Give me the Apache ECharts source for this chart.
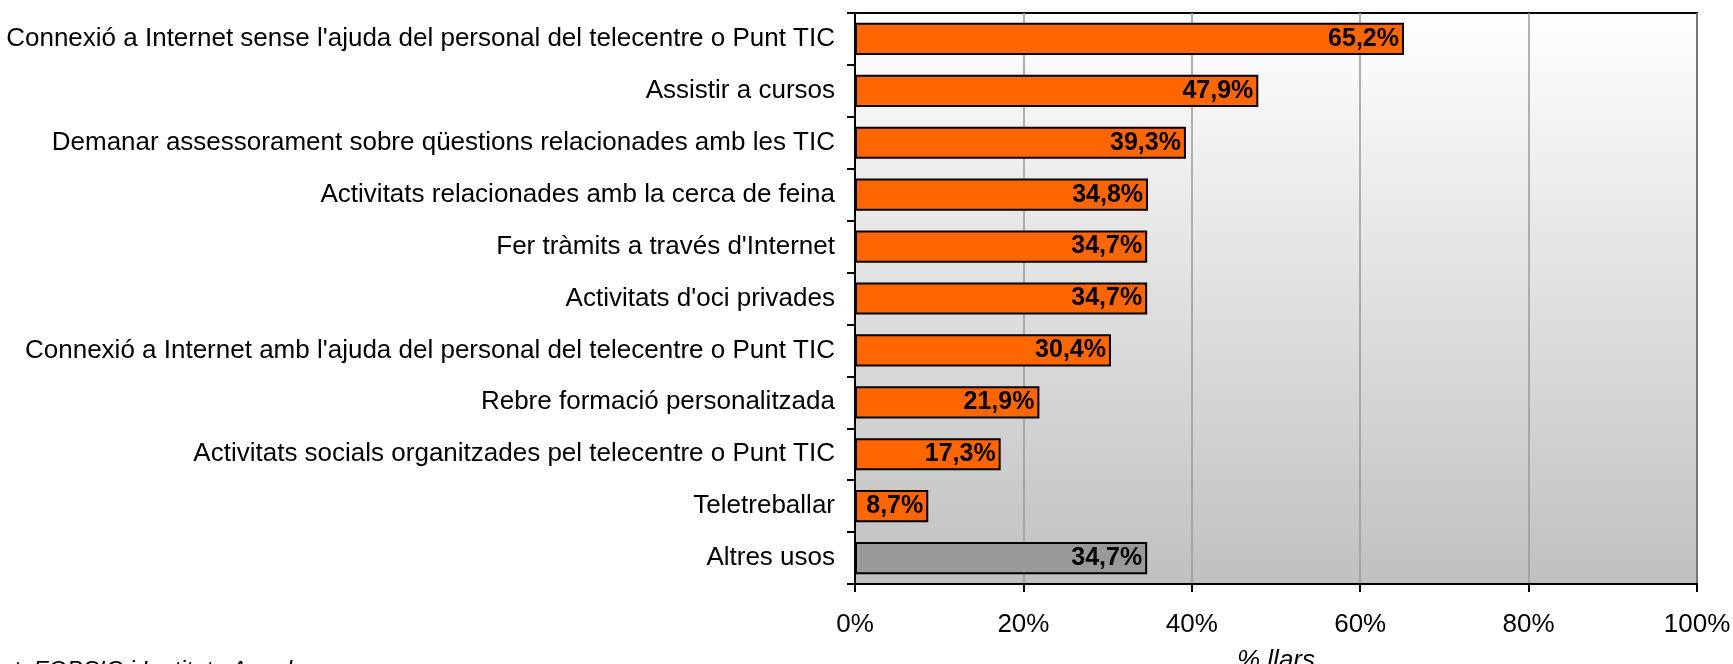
<!DOCTYPE html>
<html>
<head>
<meta charset="utf-8">
<script src="https://cdn.jsdelivr.net/npm/echarts@6/dist/echarts.min.js"></script>
<style>
  html, body { margin: 0; padding: 0; background: #ffffff; }
  #chart { width: 1733px; height: 664px; }
</style>
</head>
<body>
<div id="chart"></div>
<script>
// Usos del telecentre o Punt TIC (% llars)
const categories = [
  "Connexió a Internet sense l'ajuda del personal del telecentre o Punt TIC",
  "Assistir a cursos",
  "Demanar assessorament sobre qüestions relacionades amb les TIC",
  "Activitats relacionades amb la cerca de feina",
  "Fer tràmits a través d'Internet",
  "Activitats d'oci privades",
  "Connexió a Internet amb l'ajuda del personal del telecentre o Punt TIC",
  "Rebre formació personalitzada",
  "Activitats socials organitzades pel telecentre o Punt TIC",
  "Teletreballar",
  "Altres usos"
];
const values = [65.2, 47.9, 39.3, 34.8, 34.7, 34.7, 30.4, 21.9, 17.3, 8.7, 34.7];
const highlighted = ["Altres usos"];
const xTicks = [0, 20, 40, 60, 80, 100];
const axisTitle = "% llars";
const sourceNote = "Font: FOBSIC i Instituts Anuals";

const FONT = "'Liberation Sans', Arial, sans-serif";
const chart = echarts.init(document.getElementById('chart'), null, { renderer: 'canvas' });

const barData = values.map((v, i) => ({
  value: v,
  itemStyle: { color: highlighted.includes(categories[i]) ? '#999999' : '#ff6600' }
}));

chart.setOption({
  animation: false,
  backgroundColor: '#ffffff',
  textStyle: { fontFamily: FONT },
  grid: {
    left: 855, right: 36, top: 13, bottom: 80,
    containLabel: false,
    outerBoundsMode: 'none',
    show: true,
    borderColor: '#000000',
    borderWidth: 2,
    backgroundColor: new echarts.graphic.LinearGradient(0, 0, 0, 1, [
      { offset: 0, color: '#ffffff' },
      { offset: 1, color: '#c0c0c0' }
    ])
  },
  xAxis: {
    type: 'value',
    min: xTicks[0],
    max: xTicks[xTicks.length - 1],
    interval: xTicks[1] - xTicks[0],
    name: axisTitle,
    nameLocation: 'middle',
    nameGap: 64,
    nameTextStyle: { fontFamily: FONT, fontSize: 26, fontStyle: 'italic', color: '#000' },
    axisLine: { show: true, lineStyle: { color: '#000', width: 2 } },
    axisTick: { show: true, length: 8, lineStyle: { color: '#000', width: 2 } },
    axisLabel: {
      margin: 28,
      fontFamily: FONT, fontSize: 26, color: '#000',
      formatter: v => v + '%'
    },
    splitLine: { show: true, lineStyle: { color: '#999999', width: 1.5 } }
  },
  yAxis: {
    type: 'category',
    data: categories,
    inverse: true,
    axisLine: { show: true, lineStyle: { color: '#000', width: 2 } },
    axisTick: { show: true, length: 8, lineStyle: { color: '#000', width: 2 } },
    axisLabel: { margin: 20, fontFamily: FONT, fontSize: 26, color: '#000' },
    splitLine: { show: false }
  },
  series: [{
    type: 'bar',
    data: barData,
    barWidth: '62%',
    itemStyle: { borderColor: '#000', borderWidth: 2 },
    label: {
      show: true,
      position: 'insideRight',
      distance: 5,
      fontFamily: FONT,
      fontSize: 25,
      fontWeight: 'bold',
      color: '#000',
      formatter: p => p.value.toFixed(1).replace('.', ',') + '%'
    }
  }],
  graphic: [{
    type: 'text',
    left: -28,
    top: 659,
    style: {
      text: sourceNote,
      fontFamily: FONT,
      fontSize: 24,
      fontStyle: 'italic',
      fill: '#000'
    }
  }]
});
</script>
</body>
</html>
